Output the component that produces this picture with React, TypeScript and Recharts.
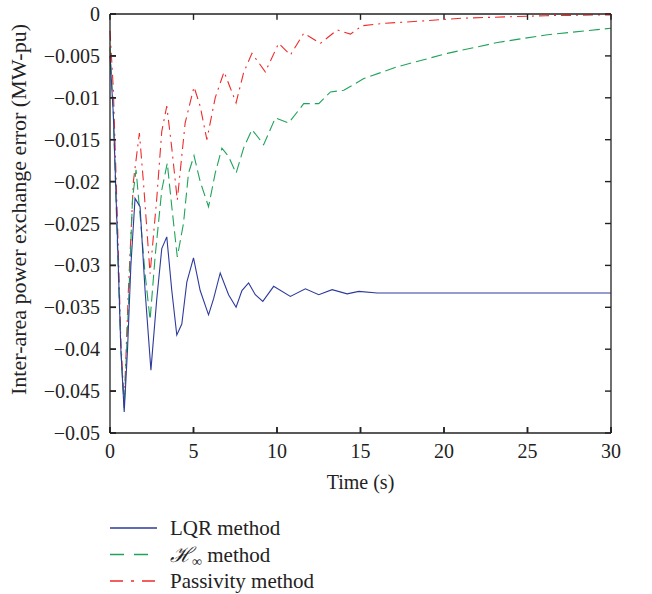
import { LineChart, Line, XAxis, YAxis, Label, ReferenceLine } from 'recharts';

// time (s) / error (MW-pu) samples
const lqrT = [0, 0.2, 0.45, 0.65, 0.85, 1.05, 1.25, 1.5, 1.8, 2.1, 2.45, 2.8, 3.1, 3.4, 3.7, 4.0, 4.3, 4.6, 5.0, 5.4, 5.9, 6.2, 6.6, 7.1, 7.55, 7.9, 8.3, 8.7, 9.15, 9.8, 10.8, 11.7, 12.5, 13.3, 14.2, 14.9, 16, 20, 25, 30];
const lqrV = [-0.005, -0.012, -0.027, -0.04, -0.0475, -0.04, -0.03, -0.022, -0.023, -0.033, -0.0425, -0.034, -0.028, -0.0266, -0.033, -0.0383, -0.037, -0.032, -0.0291, -0.033, -0.0359, -0.034, -0.0309, -0.0335, -0.035, -0.033, -0.0321, -0.0335, -0.0343, -0.0325, -0.0337, -0.0328, -0.0335, -0.0329, -0.0334, -0.0331, -0.0333, -0.0333, -0.0333, -0.0333];

const hinfT = [0, 0.2, 0.45, 0.65, 0.85, 1.1, 1.35, 1.56, 1.8, 2.1, 2.4, 2.7, 3.1, 3.43, 3.7, 4.03, 4.4, 4.7, 5.03, 5.4, 5.9, 6.3, 6.7, 7.1, 7.55, 8.0, 8.5, 8.9, 9.2, 9.9, 10.7, 11.6, 12.5, 13.2, 14, 15.2, 17.2, 20.2, 23.2, 26.1, 30];
const hinfV = [-0.004, -0.012, -0.028, -0.04, -0.047, -0.035, -0.022, -0.0186, -0.024, -0.031, -0.0365, -0.029, -0.021, -0.0178, -0.023, -0.029, -0.025, -0.019, -0.0169, -0.02, -0.023, -0.019, -0.016, -0.017, -0.019, -0.016, -0.0138, -0.0148, -0.0156, -0.0124, -0.013, -0.0107, -0.0107, -0.0093, -0.0091, -0.0077, -0.0063, -0.0047, -0.0034, -0.0025, -0.0017];

const passT = [0, 0.2, 0.45, 0.65, 0.85, 1.1, 1.4, 1.76, 2.0, 2.4, 2.8, 3.1, 3.4, 3.7, 4.03, 4.5, 5.03, 5.4, 5.8, 6.3, 6.83, 7.2, 7.55, 8.0, 8.5, 8.9, 9.3, 10.1, 10.8, 11.6, 12.6, 13.6, 14.4, 15.1, 16.5, 18.2, 21.1, 26.1, 30];
const passV = [-0.002, -0.009, -0.025, -0.039, -0.0465, -0.033, -0.02, -0.0142, -0.02, -0.031, -0.022, -0.014, -0.011, -0.016, -0.0222, -0.013, -0.0087, -0.011, -0.015, -0.01, -0.0069, -0.0088, -0.0106, -0.007, -0.0047, -0.0058, -0.0069, -0.0035, -0.0049, -0.0023, -0.0035, -0.0019, -0.0024, -0.0014, -0.0011, -0.0009, -0.0005, -0.0002, -0.0001];

const xTicks = [0, 5, 10, 15, 20, 25, 30];
const yTicks = [0, -0.005, -0.01, -0.015, -0.02, -0.025, -0.03, -0.035, -0.04, -0.045, -0.05];

const toPoints = (ts: number[], vs: number[]) => ts.map((t, i) => ({ t, v: vs[i] }));
const lqrData = toPoints(lqrT, lqrV);
const hinfData = toPoints(hinfT, hinfV);
const passData = toPoints(passT, passV);

const FONT = '"Liberation Serif", "DejaVu Serif", serif';
const AXIS = '#222222';
const TICK = 6;
const BLUE = '#2e3a9c';
const GREEN = '#1fa35a';
const RED = '#ee2b2b';

// inward tick marks of the boxed frame, ~6px long in data units
const X_MIN = 0, X_MAX = 30, Y_MIN = -0.05, Y_MAX = 0;
const TICK_DX = 0.36;
const TICK_DY = 0.0007;

const fmtY = (v: number) => (v === 0 ? '0' : '\u2212' + String(Math.abs(v)));

const BottomTick = ({ x, y, payload }: any) => (
  <text x={x} y={y + TICK + 25} textAnchor="middle" fontFamily={FONT} fontSize={20} fill="#222">{payload.value}</text>
);
const LeftTick = ({ x, y, payload }: any) => (
  <text x={x - TICK - 10} y={y} dy="0.35em" textAnchor="end" fontFamily={FONT} fontSize={20} fill="#222">{fmtY(payload.value)}</text>
);
const NoLabel = () => <g />;

const legendItems = [
  { name: 'LQR method', color: BLUE, dash: undefined as string | undefined, hinf: false },
  { name: ' method', color: GREEN, dash: '14 10', hinf: true },
  { name: 'Passivity method', color: RED, dash: '13 8 3 8', hinf: false },
];

const ChartLegend = () => (
  <svg width={280} height={80} style={{ position: 'absolute', left: 100, top: 515 }}>
    {legendItems.map((it, i) => {
      const cy = 13 + i * 26.5;
      return (
        <g key={it.name + i}>
          <line x1={10} x2={57} y1={cy} y2={cy} stroke={it.color} strokeWidth={1.4} strokeDasharray={it.dash} />
          <text x={70} y={cy} dy="0.35em" fontFamily={FONT} fontSize={21} fill="#222">
            {it.hinf ? (
              <>
                <tspan fontStyle="italic">{'\u210B'}</tspan>
                <tspan fontSize={14} dy={4}>{'\u221E'}</tspan>
                <tspan dy={-4}>{it.name}</tspan>
              </>
            ) : it.name}
          </text>
        </g>
      );
    })}
  </svg>
);

const yLabel = (props: any) => {
  const { viewBox } = props;
  const cx = 18;
  const cy = viewBox.y + viewBox.height / 2 - 14;
  return (
    <text x={cx} y={cy} transform={`rotate(-90 ${cx} ${cy})`} textAnchor="middle" dominantBaseline="central" fontFamily={FONT} fontSize={22} fill="#222">
      Inter-area power exchange error (MW-pu)
    </text>
  );
};

const tickLine = { stroke: AXIS, strokeWidth: 1.6 };
const axisLine = { stroke: AXIS, strokeWidth: 1.3 };

const App = () => {
  return (
    <div style={{ position: 'absolute', left: 0, top: 0, width: 652, height: 594, background: '#fff' }}>
      <LineChart width={652} height={594} margin={{ top: 13, right: 40, left: 109, bottom: 160 }}>
        <XAxis xAxisId={0} dataKey="t" type="number" domain={[X_MIN, X_MAX]} ticks={xTicks} interval={0} height={1} stroke={AXIS} tickSize={-TICK} tickMargin={0} tickLine={tickLine} tick={BottomTick} axisLine={axisLine}>
          <Label value="Time (s)" position="bottom" offset={41} style={{ fontFamily: FONT, fontSize: 20, fill: '#222' }} />
        </XAxis>
        <XAxis xAxisId="top" orientation="top" dataKey="t" type="number" domain={[X_MIN, X_MAX]} ticks={xTicks} interval={0} height={1} stroke={AXIS} tickSize={-TICK} tickMargin={0} tickLine={tickLine} tick={NoLabel} axisLine={axisLine} />
        <YAxis yAxisId={0} type="number" domain={[Y_MIN, Y_MAX]} ticks={yTicks} interval={0} width={1} stroke={AXIS} tickSize={-TICK} tickMargin={0} tickLine={tickLine} tick={LeftTick} axisLine={axisLine}>
          <Label content={yLabel} />
        </YAxis>
        <YAxis yAxisId="right" orientation="right" type="number" domain={[Y_MIN, Y_MAX]} ticks={yTicks} interval={0} width={1} stroke={AXIS} tickSize={-TICK} tickMargin={0} tickLine={tickLine} tick={NoLabel} axisLine={axisLine} />
        {xTicks.map((t) => (
          <ReferenceLine key={'xb' + t} segment={[{ x: t, y: Y_MIN }, { x: t, y: Y_MIN + TICK_DY }]} stroke={AXIS} strokeWidth={1.4} />
        ))}
        {xTicks.map((t) => (
          <ReferenceLine key={'xt' + t} segment={[{ x: t, y: Y_MAX }, { x: t, y: Y_MAX - TICK_DY }]} stroke={AXIS} strokeWidth={1.4} />
        ))}
        {yTicks.map((v) => (
          <ReferenceLine key={'yl' + v} segment={[{ x: X_MIN, y: v }, { x: X_MIN + TICK_DX, y: v }]} stroke={AXIS} strokeWidth={1.4} />
        ))}
        {yTicks.map((v) => (
          <ReferenceLine key={'yr' + v} segment={[{ x: X_MAX, y: v }, { x: X_MAX - TICK_DX, y: v }]} stroke={AXIS} strokeWidth={1.4} />
        ))}
        <Line data={passData} dataKey="v" name="Passivity method" type="linear" stroke={RED} strokeWidth={1.1} strokeDasharray="10 5 2 5" dot={false} isAnimationActive={false} />
        <Line data={hinfData} dataKey="v" name="H∞ method" type="linear" stroke={GREEN} strokeWidth={1.1} strokeDasharray="11 5" dot={false} isAnimationActive={false} />
        <Line data={lqrData} dataKey="v" name="LQR method" type="linear" stroke={BLUE} strokeWidth={1.1} dot={false} isAnimationActive={false} />
      </LineChart>
      <ChartLegend />
    </div>
  );
};

export default App;
